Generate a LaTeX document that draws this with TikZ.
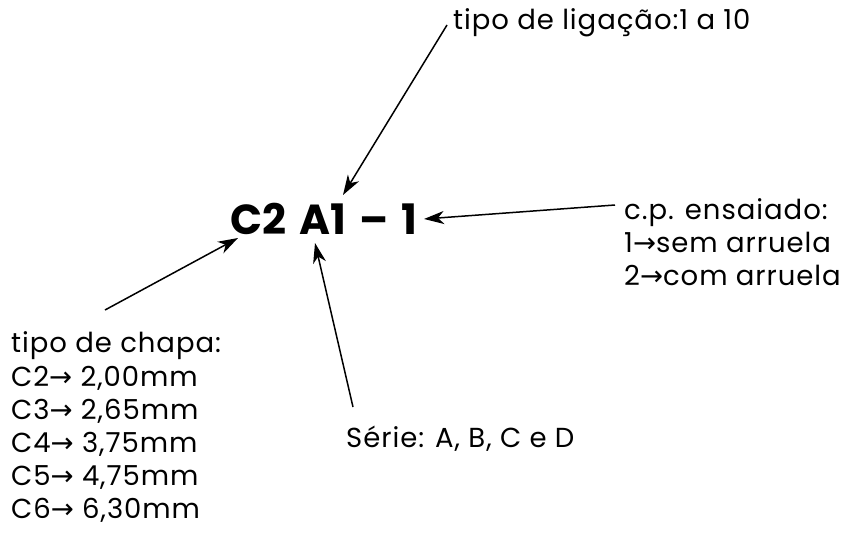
\documentclass[tikz,border=0pt]{standalone}
\usepackage{fontspec,tikz}
\usetikzlibrary{arrows.meta}
\setmainfont{Poppins}[LetterSpace=3.5]
\newfontfamily\codefont{Poppins}[BoldFont={Poppins Bold},LetterSpace=0.8,WordSpace=1.4]
\newfontfamily\arrowfont{DejaVu Sans}
\newcommand{\ra}{{\arrowfont\char"2192}}

\begin{document}
\begin{tikzpicture}[x=1pt,y=-1pt]
\tikzset{
  lbl/.style={anchor=base west,inner sep=0pt,font=\fontsize{27.5}{33.0}\selectfont},
  code/.style={anchor=base west,inner sep=0pt,font=\fontsize{42.0}{49.0}\selectfont\codefont\bfseries},
  pointer/.style={line width=1.5pt,-{Stealth[length=20pt,width=13pt,inset=6pt]}}
}
\path[use as bounding box] (0,0) rectangle (851.0,541.0);
\node[code] (codigo) at (230,234) {C2 A1 \char"2013{} 1};
\node[lbl] (ligacao) at (453,29) {tipo de liga\c{c}\~ao:1 a 10};
\node[lbl] (ensaio1) at (624,219) {c.p. ensaiado:};
\node[lbl] (ensaio2) at (624,252) {1\ra sem arruela};
\node[lbl] (ensaio3) at (624,285) {2\ra com arruela};
\node[lbl] (chapa0) at (11,352) {tipo de chapa:};
\node[lbl] (chapa1) at (11,386) {C2\ra\ 2,00mm};
\node[lbl] (chapa2) at (11,419) {C3\ra\ 2,65mm};
\node[lbl] (chapa3) at (11,452) {C4\ra\ 3,75mm};
\node[lbl] (chapa4) at (11,485) {C5\ra\ 4,75mm};
\node[lbl] (chapa5) at (11,518) {C6\ra\ 6,30mm};
\node[lbl] (serie) at (346,447) {S\'erie: A, B, C e D};
% pontas das setas
\coordinate (tipLig) at (343,195);
\coordinate (tipEns) at (424,219);
\coordinate (tipCha) at (238,238);
\coordinate (tipSer) at (315,243);
\draw[pointer] (447,25) -- (tipLig);
\draw[pointer] (615,205) -- (tipEns);
\draw[pointer] (105,310) -- (tipCha);
\draw[pointer] (353,407) -- (tipSer);
\end{tikzpicture}
\end{document}
